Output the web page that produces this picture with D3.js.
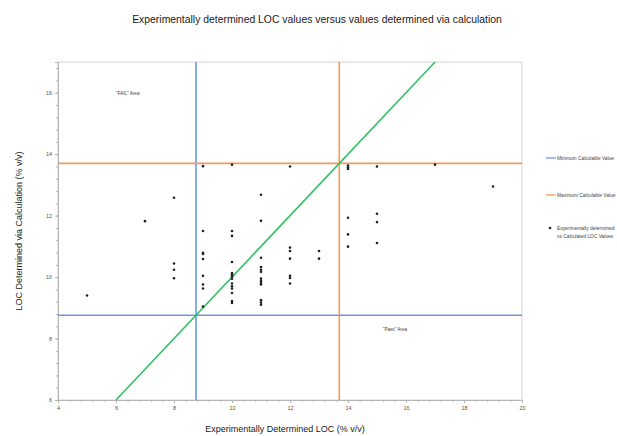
<!DOCTYPE html>
<html><head><meta charset="utf-8">
<script src="https://cdn.jsdelivr.net/npm/d3@7"></script>
<style>body{margin:0;background:#fff;}svg{display:block;font-family:"Liberation Sans",Arial,sans-serif;}</style>
</head><body>
<svg id="c" width="617" height="436"></svg>
<script>
const expX = [5,7,8,8,8,8,
  9,9,9,9,9,9,9,9,9,
  10,10,10,10,10,10,10,10,10,10,10,10,10,10,
  11,11,11,11,11,11,11,11,11,11,11,11,11,
  12,12,12,12,12,12,12,
  13,13,
  14,14,14,14,14,14,
  15,15,15,15,
  17,19];
const calcY = [9.4,11.82,12.58,10.44,10.24,9.96,
  13.61,11.5,10.79,10.75,10.59,10.04,9.76,9.63,9.04,
  13.66,11.5,11.34,10.49,10.13,10.08,10.03,9.95,9.79,9.70,9.63,9.48,9.22,9.16,
  12.68,11.83,10.63,10.33,10.24,10.17,9.95,9.87,9.81,9.76,9.25,9.17,9.10,
  13.6,10.96,10.85,10.60,10.04,9.97,9.79,
  10.85,10.60,
  13.63,13.57,13.52,11.93,11.39,10.99,
  13.6,12.06,11.79,11.11,
  13.66,12.95];
const minCalc = 8.76, maxCalc = 13.7;
const xTicks = [4,6,8,10,12,14,16,18,20];
const yTicks = [6,8,10,12,14,16];
const identity = [[6,6],[17,17]];
const legendLabels = [["Minimum Calculable Value"],["Maximum Calculable Value"],["Experimentally determined","vs Calculated LOC Values"]];
const annotations = [{t:'"FAIL" Area', x:6.0, y:15.93}, {t:'"Pass" Area', x:15.2, y:8.25}];

const svg = d3.select("#c");
const L=58,R=522,T=62,B=400;
const x = d3.scaleLinear().domain([4,20]).range([L,R]);
const y = d3.scaleLinear().domain([6,17]).range([B,T]);
const blue="#6f98da", orange="#f29b61", green="#2fc263", gray="#b5b5b5", tcol="#555";

svg.append("text").attr("x",317).attr("y",23).attr("text-anchor","middle")
  .attr("font-size",10.4).attr("fill","#1a1a1a").text("Experimentally determined LOC values versus values determined via calculation");

// frame
svg.append("rect").attr("x",L).attr("y",T).attr("width",R-L).attr("height",B-T)
  .attr("fill","none").attr("stroke","#d4d4d4").attr("stroke-width",1);

// axes
const xa = svg.append("g").attr("transform",`translate(0,${B})`)
  .call(d3.axisBottom(x).tickValues(d3.range(4,20.001,0.4)).tickSize(2).tickFormat(""));
const xb = svg.append("g").attr("transform",`translate(0,${B})`)
  .call(d3.axisBottom(x).tickValues(xTicks).tickSize(3).tickFormat(d3.format("d")));
const ya = svg.append("g").attr("transform",`translate(${L},0)`)
  .call(d3.axisLeft(y).tickValues(d3.range(6,17.001,0.4)).tickSize(2).tickFormat(""));
const yb = svg.append("g").attr("transform",`translate(${L},0)`)
  .call(d3.axisLeft(y).tickValues(yTicks).tickSize(3).tickFormat(d3.format("d")));
[xa,xb,ya,yb].forEach(g=>{g.selectAll("path").attr("stroke",gray);g.selectAll("line").attr("stroke",gray);
  g.selectAll("text").attr("fill",tcol).attr("font-size",5.5).attr("font-family","Liberation Sans, Arial, sans-serif");});
yb.selectAll("text").attr("dy","0.32em");

// reference lines
svg.append("line").attr("x1",x(minCalc)).attr("x2",x(minCalc)).attr("y1",T).attr("y2",B).attr("stroke",blue).attr("stroke-width",1.6);
svg.append("line").attr("x1",L).attr("x2",R).attr("y1",y(minCalc)).attr("y2",y(minCalc)).attr("stroke",blue).attr("stroke-width",1.6);
svg.append("line").attr("x1",x(maxCalc)).attr("x2",x(maxCalc)).attr("y1",T).attr("y2",B).attr("stroke",orange).attr("stroke-width",1.6);
svg.append("line").attr("x1",L).attr("x2",R).attr("y1",y(maxCalc)).attr("y2",y(maxCalc)).attr("stroke",orange).attr("stroke-width",1.6);
svg.append("path").attr("d",d3.line().x(d=>x(d[0])).y(d=>y(d[1]))(identity)).attr("stroke",green).attr("stroke-width",1.6).attr("fill","none");

// points
svg.append("g").selectAll("circle").data(expX.map((v,i)=>[v,calcY[i]])).join("circle")
  .attr("cx",d=>x(d[0])).attr("cy",d=>y(d[1])).attr("r",1.3).attr("fill","#222");

annotations.forEach(a=>svg.append("text").attr("x",x(a.x)).attr("y",y(a.y)).attr("font-size",4.6).attr("fill","#444").text(a.t));

// axis titles
svg.append("text").attr("x",285).attr("y",432).attr("text-anchor","middle").attr("font-size",9).attr("fill","#222")
  .text("Experimentally Determined LOC (% v/v)");
svg.append("text").attr("transform",`translate(22,231) rotate(-90)`).attr("text-anchor","middle").attr("font-size",9).attr("fill","#222")
  .text("LOC Determined via Calculation (% v/v)");

// legend
const lg = svg.append("g");
const ly = [158,195,228];
lg.append("line").attr("x1",546).attr("x2",556).attr("y1",ly[0]).attr("y2",ly[0]).attr("stroke",blue).attr("stroke-width",1.3);
lg.append("line").attr("x1",546).attr("x2",556).attr("y1",ly[1]).attr("y2",ly[1]).attr("stroke",orange).attr("stroke-width",1.3);
lg.append("circle").attr("cx",550).attr("cy",ly[2]).attr("r",1.3).attr("fill","#222");
legendLabels.forEach((lab,i)=>lab.forEach((s,j)=>lg.append("text").attr("x",557).attr("y",ly[i]+1.8+j*8)
  .attr("font-size",4.85).attr("fill","#444").text(s)));
</script>
</body></html>
